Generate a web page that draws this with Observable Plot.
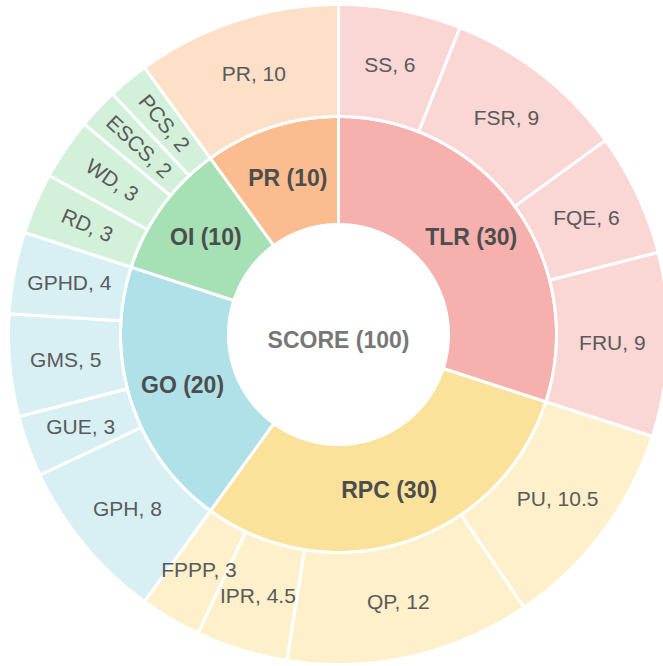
<!DOCTYPE html>
<html>
<head>
<meta charset="utf-8">
<script src="https://cdn.jsdelivr.net/npm/d3@7"></script>
<script src="https://cdn.jsdelivr.net/npm/@observablehq/plot@0.6"></script>
<style>
  html, body { margin: 0; padding: 0; background: #fff; overflow: hidden; }
  #chart { width: 663px; height: 666px; }
</style>
</head>
<body>
<div id="chart"></div>
<script>
// ---- data ----
const rootLabel = "SCORE";
const rootValue = 100;
const groups = ["TLR", "RPC", "GO", "OI", "PR"];
const groupValues = [30, 30, 20, 10, 10];
const innerColors = ["#f6b1ae", "#fbe29b", "#b1e1e8", "#a6e0b5", "#fbbd8f"];
const outerColors = ["#fad6d5", "#fdf0cb", "#d8f0f4", "#d3f0da", "#fde0c7"];
const leafNames = ["SS", "FSR", "FQE", "FRU", "PU", "QP", "IPR", "FPPP", "GPH", "GUE", "GMS", "GPHD", "RD", "WD", "ESCS", "PCS", "PR"];
const leafValues = [6, 9, 6, 9, 10.5, 12, 4.5, 3, 8, 3, 5, 4, 3, 3, 2, 2, 10];
const leafParents = ["TLR", "TLR", "TLR", "TLR", "RPC", "RPC", "RPC", "RPC", "GO", "GO", "GO", "GO", "OI", "OI", "OI", "OI", "PR"];
const radialLabelGroups = ["OI"];

// ---- geometry ----
const R0 = 110, R1 = 218, R2 = 330;
const angle = d3.scaleLinear().domain([0, rootValue]).range([0, 2 * Math.PI]);

function ringPolygon(id, color, v0, v1, r0, r1) {
  const a0 = angle(v0), a1 = angle(v1);
  const n = Math.max(8, Math.ceil((a1 - a0) / (Math.PI / 360)));
  const pts = [];
  for (let i = 0; i <= n; i++) {
    const a = a0 + (a1 - a0) * i / n;
    pts.push({id, color, x: r1 * Math.sin(a), y: -r1 * Math.cos(a)});
  }
  for (let i = n; i >= 0; i--) {
    const a = a0 + (a1 - a0) * i / n;
    pts.push({id, color, x: r0 * Math.sin(a), y: -r0 * Math.cos(a)});
  }
  pts.push({...pts[0]});
  return pts;
}

const polys = [];
const labels = [];
let acc = 0;
groups.forEach((g, i) => {
  const v0 = acc, v1 = acc + groupValues[i];
  polys.push(...ringPolygon("g-" + g, innerColors[i], v0, v1, R0, R1));
  const am = angle((v0 + v1) / 2), rm = (R0 + R1) / 2;
  labels.push({text: `${g} (${groupValues[i]})`, x: rm * Math.sin(am), y: -rm * Math.cos(am), rot: 0, kind: "inner"});
  acc = v1;
});
acc = 0;
leafNames.forEach((name, i) => {
  const v0 = acc, v1 = acc + leafValues[i];
  const gi = groups.indexOf(leafParents[i]);
  polys.push(...ringPolygon("l-" + i, outerColors[gi], v0, v1, R1, R2));
  const am = angle((v0 + v1) / 2), rm = (R1 + R2) / 2;
  const rot = radialLabelGroups.includes(leafParents[i]) ? am * 180 / Math.PI - 270 : 0;
  labels.push({text: `${name}, ${leafValues[i]}`, x: rm * Math.sin(am), y: -rm * Math.cos(am), rot, kind: "outer"});
  acc = v1;
});

const font = "Liberation Sans, Arial, Helvetica, sans-serif";

const chart = Plot.plot({
  width: 663,
  height: 666,
  margin: 0,
  x: {domain: [-338, 325], range: [0, 663], axis: null},
  y: {domain: [-334, 332], range: [0, 666], axis: null},
  color: {type: "identity"},
  style: {fontFamily: font, background: "white"},
  marks: [
    Plot.line(polys, {x: "x", y: "y", z: "id", fill: "color", stroke: "white", strokeWidth: 3, strokeLinejoin: "round", clip: true}),
    Plot.text(labels.filter(d => d.kind === "outer"), {x: "x", y: "y", text: "text", rotate: "rot", fill: "#5a5a5a", fontSize: 21, fontFamily: font}),
    Plot.text(labels.filter(d => d.kind === "inner"), {x: "x", y: "y", text: "text", fill: "#4d4d4d", fontSize: 23, fontWeight: "bold", fontFamily: font}),
    Plot.text([{x: 0, y: 0, text: `${rootLabel} (${rootValue})`}], {x: "x", y: "y", dy: 6, text: "text", fill: "#777", fontSize: 23, fontWeight: "bold", fontFamily: font})
  ]
});
document.getElementById("chart").appendChild(chart);
</script>
</body>
</html>
